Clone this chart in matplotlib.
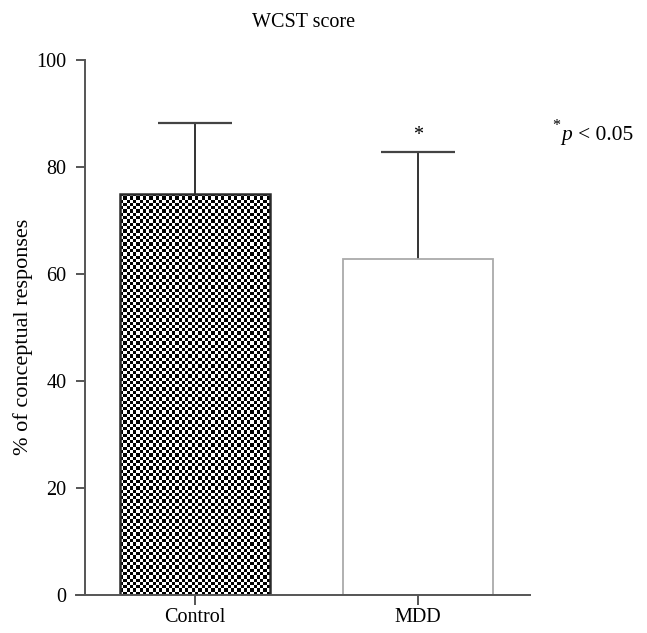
import matplotlib.pyplot as plt
import numpy as np

plt.rcParams["font.family"] = ["Liberation Serif", "DejaVu Serif"]

groups = ["Control", "MDD"]
means = [75.0, 62.8]
sd_upper = [13.3, 20.0]
y_ticks = [0, 20, 40, 60, 80, 100]

FS = 14.5
BAR_W = 0.67
CAP_HALF = 0.166

fig = plt.figure(figsize=(6.47, 6.33), dpi=100)
ax = fig.add_axes([0.1175, 0.06, 0.702, 0.845])

x = np.arange(len(groups))
bars = ax.bar(x, means, width=BAR_W, facecolor="white", linewidth=1.3, zorder=2)
bars[0].set_facecolor("none")
bars[0].set_edgecolor("#2a2a2a")
bars[0].set_linewidth(1.8)
bars[1].set_edgecolor("#aaaaaa")

# checkerboard fill for the control bar, clipped to the bar rectangle
checker = (np.indices((122, 46)).sum(axis=0) % 2).astype(float)
im = ax.imshow(checker, cmap="gray", vmin=0.12, vmax=1.0, interpolation="nearest",
               extent=(x[0] - BAR_W / 2, x[0] + BAR_W / 2, 0, means[0]),
               aspect="auto", zorder=1.5)
im.set_clip_path(bars[0])

# one-sided (upper) error bars
tops = np.array(means) + np.array(sd_upper)
ax.vlines(x, means, tops, color="#333333", linewidth=1.4, zorder=1)
ax.hlines(tops, x - CAP_HALF, x + CAP_HALF, color="#444444", linewidth=1.6, zorder=1)

ax.text(x[1], tops[1] + 1.4, "*", ha="center", va="bottom", fontsize=FS)

ax.set_xlim(-0.534, 1.502)
ax.set_ylim(0, 100)
ax.spines["left"].set_position(("data", -0.493))
ax.spines["top"].set_visible(False)
ax.spines["right"].set_visible(False)
for s in ("left", "bottom"):
    ax.spines[s].set_linewidth(1.4)
    ax.spines[s].set_color("#555555")

ax.set_xticks(x)
ax.set_xticklabels(groups, fontsize=FS)
ax.set_yticks(y_ticks)
ax.set_yticklabels([str(t) for t in y_ticks], fontsize=FS)
ax.tick_params(axis="y", direction="out", length=6.5, width=1.4, color="#555555", pad=7)
ax.tick_params(axis="x", direction="out", length=7, width=1.4, color="#555555", pad=2)

ax.set_ylabel("% of conceptual responses", fontsize=16)
ax.yaxis.set_label_coords(-0.095, 0.482)
ax.set_title("WCST score", fontsize=FS, pad=24)

fig.text(0.853, 0.795, "*", fontsize=FS - 3)
fig.text(0.868, 0.779, "p", fontsize=FS + 1, style="italic")
fig.text(0.893, 0.779, "< 0.05", fontsize=FS + 1)

fig.savefig("out.png", dpi=100)
